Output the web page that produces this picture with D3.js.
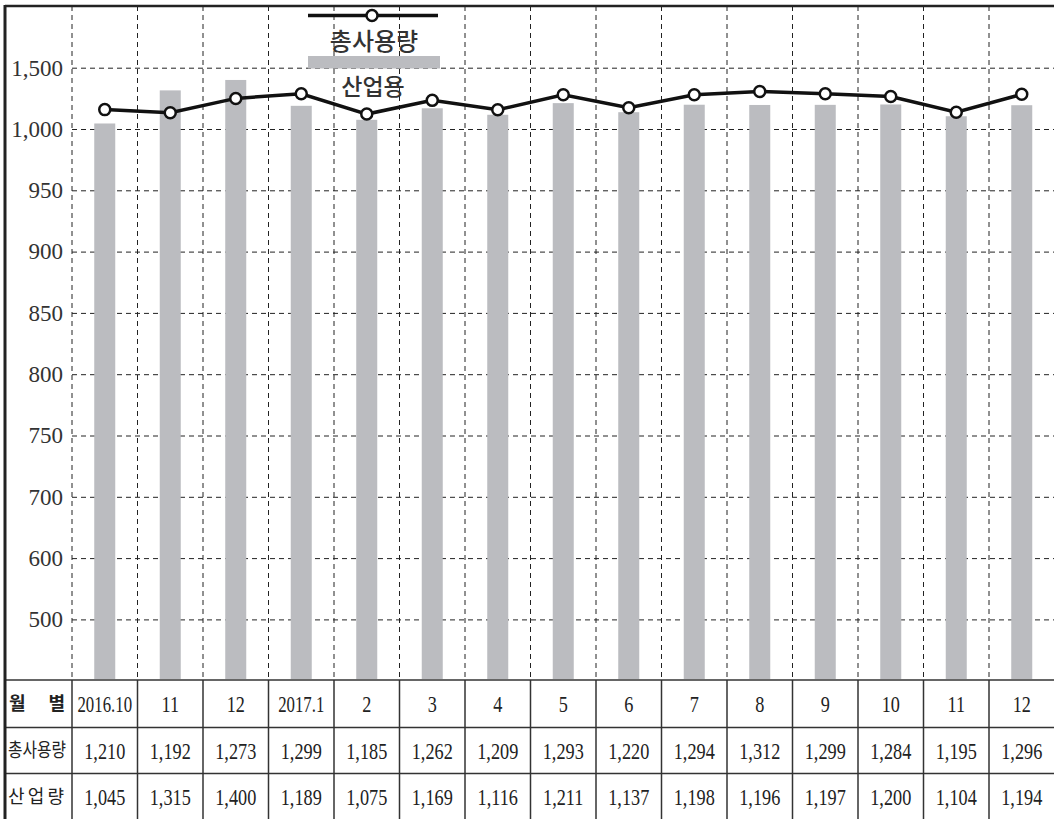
<!DOCTYPE html>
<html>
<head>
<meta charset="utf-8">
<script src="https://cdnjs.cloudflare.com/ajax/libs/d3/7.8.5/d3.min.js"></script>
<style>
body { margin: 0; background: #fff; }
svg { display: block; }
.y_axis line { stroke: #222; stroke-width: 1; stroke-dasharray: 5,4; }
.y_axis .domain { display: none; }
.grid_v { stroke: #222; stroke-width: 1; stroke-dasharray: 5,4; }
.tbl { stroke: #333; stroke-width: 1.5; }
.num { font-family: "Liberation Serif", serif; font-size: 24px; fill: #222; }
.kr { font-family: "Noto Sans CJK KR", sans-serif; fill: #222; }
</style>
</head>
<body>
<div id="chart"></div>
<script>
// data
var months = ["2016.10", "11", "12", "2017.1", "2", "3", "4", "5", "6", "7", "8", "9", "10", "11", "12"];
var total = [1210, 1192, 1273, 1299, 1185, 1262, 1209, 1293, 1220, 1294, 1312, 1299, 1284, 1195, 1296];
var industry = [1045, 1315, 1400, 1189, 1075, 1169, 1116, 1211, 1137, 1198, 1196, 1197, 1200, 1104, 1194];
var y_ticks = [1500, 1000, 950, 900, 850, 800, 750, 700, 600, 500];
var row_names = ["월 별", "총사용량", "산 업 량"];
var legend_names = ["총사용량", "산업용"];

// layout
var svg_w = 1054;
var svg_h = 819;
var border = 5;
var left = 72;
var right = 1054.5;
var top_y = 6;
var plot_bottom = 680;
var rows = [680, 727.5, 773.5, 819];
var y_first = 67.7;
var y_step = 61.3;
var bar_w = 21;
var bar_color = "#bbbcc0";

var svg = d3.select("#chart")
	.append("svg")
	.attr("width", svg_w)
	.attr("height", svg_h);

// scales
var x = d3.scaleBand()
	.domain(d3.range(months.length))
	.range([left, right]);

// broken y axis: labels evenly spaced
var y = d3.scaleLinear()
	.domain(y_ticks)
	.range(y_ticks.map(function(d, i) { return y_first + i * y_step; }));

// the line is drawn on its own (hidden) scale
var y_line = d3.scaleLinear()
	.domain([1000, 1500])
	.range([147, 58]);

// grid + y labels
var y_axis = svg.append("g")
	.attr("class", "y_axis")
	.attr("transform", "translate(" + left + ",0)")
	.call(d3.axisLeft(y)
		.tickValues(y_ticks)
		.tickFormat(d3.format(","))
		.tickSize(-(right - left))
		.tickPadding(9));

y_axis.attr("font-family", "'Liberation Serif', serif")
	.attr("font-size", 23);
y_axis.selectAll("text").attr("fill", "#333");

svg.selectAll(".grid_v")
	.data(d3.range(months.length))
	.enter()
	.append("line")
	.attr("class", "grid_v")
	.attr("x1", function(i) { return x(i); })
	.attr("x2", function(i) { return x(i); })
	.attr("y1", top_y)
	.attr("y2", plot_bottom);

// bars
svg.selectAll(".bar")
	.data(industry)
	.enter()
	.append("rect")
	.attr("class", "bar")
	.attr("x", function(d, i) { return x(i) + (x.bandwidth() - bar_w) / 2; })
	.attr("y", function(d) { return y(d); })
	.attr("width", bar_w)
	.attr("height", function(d) { return plot_bottom - 1 - y(d); })
	.attr("fill", bar_color);

// line
var line = d3.line()
	.x(function(d, i) { return x(i) + x.bandwidth() / 2; })
	.y(function(d) { return y_line(d); });

svg.append("path")
	.datum(total)
	.attr("d", line)
	.attr("fill", "none")
	.attr("stroke", "#111")
	.attr("stroke-width", 3.5);

svg.selectAll(".dot")
	.data(total)
	.enter()
	.append("circle")
	.attr("class", "dot")
	.attr("cx", function(d, i) { return x(i) + x.bandwidth() / 2; })
	.attr("cy", function(d) { return y_line(d); })
	.attr("r", 5.5)
	.attr("fill", "#fff")
	.attr("stroke", "#111")
	.attr("stroke-width", 2.5);

// legend
var legend = svg.append("g").attr("transform", "translate(373,0)");
legend.append("line")
	.attr("x1", -65).attr("x2", 65)
	.attr("y1", 15.5).attr("y2", 15.5)
	.attr("stroke", "#111")
	.attr("stroke-width", 3.5);
legend.append("circle")
	.attr("cx", -1).attr("cy", 15.5).attr("r", 5.5)
	.attr("fill", "#fff").attr("stroke", "#111").attr("stroke-width", 2.5);
legend.append("text")
	.attr("class", "kr")
	.attr("x", 1).attr("y", 50)
	.attr("text-anchor", "middle")
	.style("font-size", "24px")
	.style("font-weight", "500")
	.style("fill", "#333")
	.text(legend_names[0]);
legend.append("rect")
	.attr("x", -65).attr("y", 56)
	.attr("width", 132).attr("height", 12.5)
	.attr("fill", bar_color);
legend.append("text")
	.attr("class", "kr")
	.attr("x", 0).attr("y", 95)
	.attr("text-anchor", "middle")
	.style("font-size", "23px")
	.style("font-weight", "500")
	.style("fill", "#333")
	.text(legend_names[1]);

// table
var tbl = svg.append("g");
rows.slice(0, 3).forEach(function(r) {
	tbl.append("line").attr("class", "tbl")
		.attr("x1", border).attr("x2", svg_w)
		.attr("y1", r).attr("y2", r);
});
d3.range(months.length).forEach(function(i) {
	tbl.append("line").attr("class", "tbl")
		.attr("x1", x(i)).attr("x2", x(i))
		.attr("y1", plot_bottom).attr("y2", svg_h);
});

var table_rows = [months, total.map(d3.format(",")), industry.map(d3.format(","))];
table_rows.forEach(function(vals, r) {
	var cy = (rows[r] + rows[r + 1]) / 2;
	tbl.selectAll(".cell" + r)
		.data(vals)
		.enter()
		.append("text")
		.attr("class", "num")
		.attr("text-anchor", "middle")
		.attr("dy", "0.35em")
		.attr("transform", function(d, i) {
			var sx = d.length > 5 ? 0.7 : 0.76;
			return "translate(" + (x(i) + x.bandwidth() / 2) + "," + cy + ") scale(" + sx + ",1)";
		})
		.text(function(d) { return d; });

	tbl.append("text")
		.attr("class", "kr")
		.attr("x", r == 0 ? 9 : 8)
		.attr("y", cy)
		.attr("dy", "0.36em")
		.attr("textLength", r == 1 ? 58 : 56)
		.attr("lengthAdjust", r == 1 ? "spacingAndGlyphs" : "spacing")
		.style("font-size", r == 1 ? "19px" : "18px")
		.style("font-weight", r == 0 ? "bold" : "normal")
		.text(row_names[r]);
});

// outer border
svg.append("line")
	.attr("x1", border).attr("x2", svg_w)
	.attr("y1", top_y).attr("y2", top_y)
	.attr("stroke", "#222").attr("stroke-width", 2.5);
svg.append("line")
	.attr("x1", border).attr("x2", border)
	.attr("y1", top_y - 1).attr("y2", svg_h)
	.attr("stroke", "#222").attr("stroke-width", 3);
</script>
</body>
</html>
